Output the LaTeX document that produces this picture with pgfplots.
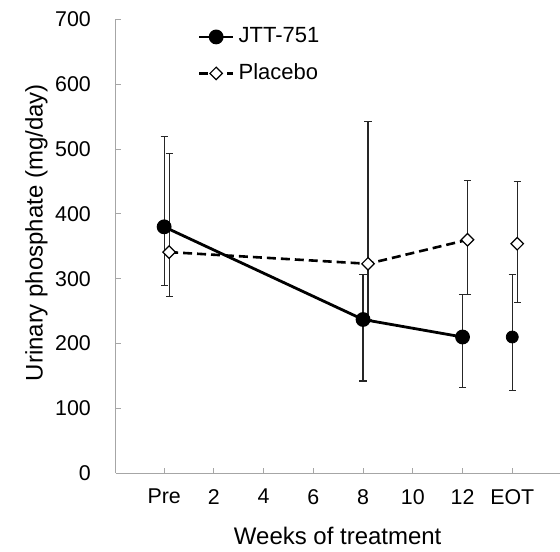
\documentclass[border=0pt]{standalone}
\usepackage{fontspec}
\setmainfont{Liberation Sans}
\usepackage{pgfplots}
\pgfplotsset{compat=1.18}

\begin{document}
\begin{tikzpicture}
\begin{axis}[
    scale only axis,
    width=222pt,
    height=227pt,
    xmin=-1.94, xmax=15.9,
    ymin=0, ymax=700,
    axis x line=bottom,
    axis y line=left,
    axis line style={-, draw=black!35, line width=0.5pt},
    tick style={draw=black!35, line width=0.5pt},
    tick align=inside,
    major tick length=2.5pt,
    xtick={0,2,4,6,8,10,12,14},
    xticklabels={Pre,2,4,6,8,10,12,EOT},
    ytick={0,100,...,700},
    /pgf/number format/assume math mode=true,
    tick label style={font=\fontsize{10.7}{12}\selectfont},
    xticklabel shift=4.5pt,
    yticklabel shift=9pt,
    xlabel={Weeks of treatment},
    ylabel={Urinary phosphate (mg/day)},
    label style={font=\fontsize{12}{14}\selectfont},
    xlabel style={at={(axis description cs:0.5,-0.139)}, anchor=center},
    ylabel style={at={(axis description cs:-0.179,0.53)}, anchor=center},
    legend style={draw=none, fill=none, at={(axis description cs:0.17,1.0)},
        anchor=north west, font=\fontsize{11}{13}\selectfont, row sep=5pt},
    legend cell align=left,
    error bars/error bar style={solid, line width=0.6pt, black!85},
    error bars/error mark options={solid, rotate=90, mark size=1.8pt, line width=0.6pt, black!85},
]
% JTT-751
\addplot[black, line width=1.4pt, mark=*, mark size=3pt,
    error bars/.cd, y dir=both, y explicit]
coordinates {
    (0,380) += (0,140) -= (0,90)
    (8,237) += (0,69) -= (0,95)
    (12,210) += (0,66) -= (0,78)
};
\addlegendentry{JTT-751}
% Placebo
\addplot[black, line width=1.3pt, dash pattern=on 4.5pt off 2.5pt,
    mark=square*, mark size=2.2pt,
    mark options={solid, fill=white, line width=0.6pt, rotate=45},
    error bars/.cd, y dir=both, y explicit]
coordinates {
    (0.2,341) += (0,152) -= (0,68)
    (8.2,323) += (0,220) -= (0,86)
    (12.2,360) += (0,92) -= (0,84)
};
\addlegendentry{Placebo}
% EOT points, not joined
\addplot[black, only marks, mark=*, mark size=3pt, forget plot,
    error bars/.cd, y dir=both, y explicit]
coordinates {
    (14,210) += (0,97) -= (0,82)
};
\addplot[black, only marks, mark=square*, mark size=2.2pt,
    mark options={solid, fill=white, line width=0.6pt, rotate=45}, forget plot,
    error bars/.cd, y dir=both, y explicit]
coordinates {
    (14.2,354) += (0,96) -= (0,91)
};
\end{axis}
\path[use as bounding box] ([xshift=-58pt,yshift=-38.75pt]current axis.south west)
    rectangle ([xshift=0pt,yshift=9.75pt]current axis.north east);
\end{tikzpicture}
\end{document}
